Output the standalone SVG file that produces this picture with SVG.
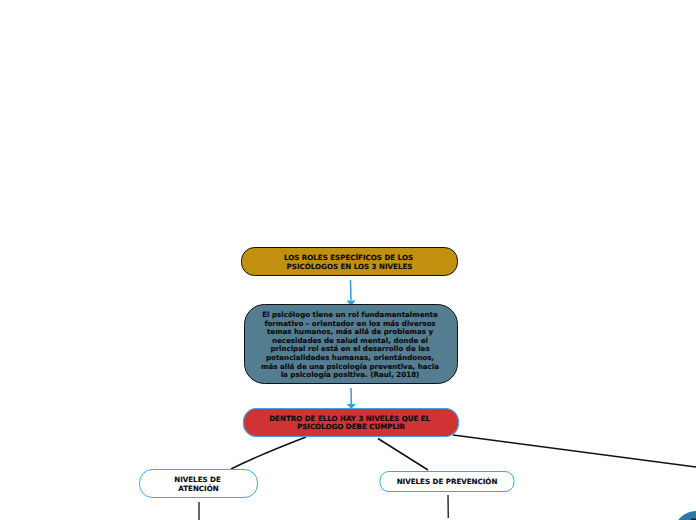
<svg xmlns="http://www.w3.org/2000/svg" width="696" height="520" viewBox="0 0 696 520">
<style>
text{font-family:"DejaVu Sans",Verdana,sans-serif;font-weight:700;text-anchor:middle;fill:#0a0a0a;stroke:#0a0a0a;stroke-width:.12}
.s{font-size:7.1px}
.c{fill:none;stroke:#111;stroke-width:1.5}
.g{fill:none;stroke:#333;stroke-width:1.5}
.b{fill:none;stroke:#2a9fe0;stroke-width:1.5}
.h{fill:#2a9fe0}
.w{fill:#fff;stroke:#3ea6e6;stroke-width:1}
</style>
<rect width="696" height="520" fill="#fff"/>
<g id="connectors">
<path class="b" d="M350.500 280L351 300"/><path class="h" d="M346.500 300.500H355.500L351 306Z"/>
<path class="b" d="M351 388L351.300 404"/><path class="h" d="M346.800 404H355.800L351.300 409Z"/>
<path class="c" d="M306 437C280 447 255 457 231 469"/>
<path class="c" d="M378 438.500L428 470"/>
<path class="c" d="M453 435L696 467"/>
<path class="g" d="M199 502V520"/>
<path class="g" d="M448 495L448.300 518"/>
</g>
<g id="node-roles">
<rect x="241.500" y="247.500" width="216" height="28" rx="13" fill="#c0900e" stroke="#111"/>
<text class="s" x="348.500" y="260">LOS ROLES ESPECÍFICOS DE LOS</text>
<text class="s" x="349.500" y="269">PSICÓLOGOS EN LOS 3 NIVELES</text>
</g>
<g id="node-psicologo">
<rect x="244.500" y="304.500" width="213" height="79" rx="20" fill="#557d92" stroke="#111"/>
<text class="s" x="350" y="317">El psicólogo tiene un rol fundamentalmente</text>
<text class="s" x="350" y="325.600">formativo – orientador en los más diversos</text>
<text class="s" x="350" y="334.200">temas humanos, más allá de problemas y</text>
<text class="s" x="350" y="342.800">necesidades de salud mental, donde el</text>
<text class="s" x="350" y="351.400">principal rol está en el desarrollo de las</text>
<text class="s" x="350" y="360">potencialidades humanas, orientándonos,</text>
<text class="s" x="350" y="368.600">más allá de una psicología preventiva, hacia</text>
<text class="s" x="350" y="377.200">la psicología positiva. (Raul, 2018)</text>
</g>
<g id="node-niveles">
<rect x="243.500" y="408.500" width="215" height="28" rx="13" fill="#d03333" stroke="#3ea6e6" stroke-width="1.200"/>
<text class="s" x="349.700" y="421">DENTRO DE ELLO HAY 3 NIVELES QUE EL</text>
<text class="s" x="351" y="429">PSICÓLOGO DEBE CUMPLIR</text>
</g>
<g id="node-atencion">
<rect class="w" x="139.500" y="469.500" width="118" height="28" rx="13"/>
<text class="s" x="197.500" y="482">NIVELES DE</text>
<text class="s" x="198.500" y="491">ATENCIÓN</text>
</g>
<g id="node-prevencion">
<rect class="w" x="380" y="471.500" width="134" height="20" rx="9"/>
<text class="s" x="447" y="484">NIVELES DE PREVENCIÓN</text>
</g>
<g id="node-corner">
<circle cx="696" cy="533" r="22" fill="#2a7aa8"/>
<rect x="691" y="518.500" width="5" height="1.500" fill="#123"/>
</g>
</svg>
